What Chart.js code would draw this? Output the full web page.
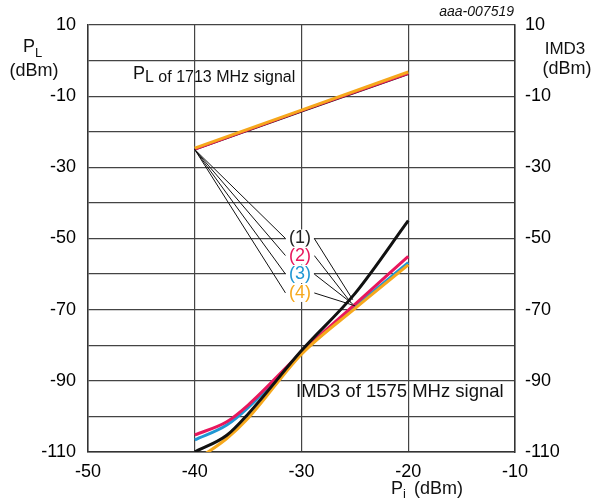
<!DOCTYPE html>
<html>
<head>
<meta charset="utf-8">
<script src="https://cdn.jsdelivr.net/npm/chart.js@4.4.1/dist/chart.umd.min.js"></script>
<style>
  html, body { margin: 0; padding: 0; background: #fff; }
  #wrap { width: 595px; height: 502px; position: relative; }
</style>
</head>
<body>
<div id="wrap"><canvas id="chart" width="595" height="502"></canvas></div>
<script>
// Pi (dBm) sample points for the IMD3 curves
const imdX = [-40, -37, -35, -30, -25, -20];
const imd1 = [-110, -105.3, -99.3, -81.5, -65.5, -45];
const imd2 = [-105.2, -101.5, -96.8, -82, -68.5, -55];
const imd3 = [-106.6, -102.4, -97.5, -82.2, -69.2, -56.8];
const imd4 = [-112.5, -106.2, -100.5, -82.5, -69.7, -57.4];

// PL of the 1713 MHz signal
const plX = [-40, -30, -20];
const pl1 = [-25, -14.3, -3.8];
const pl2 = [-25, -14.2, -3.7];
const pl3 = [-24.8, -14.0, -3.4];
const pl4 = [-24.6, -13.9, -3.2];

// callout labels (1)..(4) and their leader lines
const calloutNames = ["(1)", "(2)", "(3)", "(4)"];
const calloutX = -30.15;
const calloutY = [-50, -54.8, -60, -65.3];
const leaderStart = { x: -40, y: -25 };
const leaderLeftX = -31.5;
const leaderRightX = -28.8;
const leaderEnd = [[-25.2, -67.2], [-25.4, -67.9], [-25.2, -68.4], [-25.0, -68.9]];

const xTicks = [-50, -40, -30, -20, -10];
const yMin = -110, yMax = 10;

const colors = ["#111111", "#e8175d", "#1f97d4", "#f6a81c"];
const FONT = "'Liberation Sans', Arial, sans-serif";

function pts(xs, ys) {
    return xs.map((x, i) => ({ x: x, y: ys[i] }));
}

const imdSeries = [imd1, imd2, imd3, imd4];
const plSeries = [pl1, pl2, pl3, pl4];
const drawOrder = [1, 3, 4, 2]; // lower order = drawn on top

const datasets = [];
plSeries.forEach((s, i) => {
    datasets.push({
        data: pts(plX, s),
        borderColor: colors[i],
        borderWidth: i === 3 ? 3 : 2,
        pointRadius: 0,
        tension: 0,
        order: [3, 2, 4, 1][i]
    });
});
imdSeries.forEach((s, i) => {
    datasets.push({
        data: pts(imdX, s),
        borderColor: colors[i],
        borderWidth: 3,
        pointRadius: 0,
        cubicInterpolationMode: "monotone",
        order: drawOrder[i]
    });
});
calloutY.forEach((y, i) => {
    datasets.push({
        data: [
            leaderStart,
            { x: leaderLeftX, y: y },
            { x: null, y: null },
            { x: leaderRightX, y: y },
            { x: leaderEnd[i][0], y: leaderEnd[i][1] }
        ],
        borderColor: "#111",
        borderWidth: 1,
        pointRadius: 0,
        tension: 0,
        spanGaps: false,
        order: 0
    });
});

/** 축 제목, 신호 라벨, (1)~(4) 콜아웃 텍스트를 그린다. */
const textPlugin = {
    id: "textPlugin",
    afterDatasetsDraw(chart) {
        const { ctx, scales } = chart;
        const xs = scales.x, ys = scales.y;
        ctx.save();
        ctx.textBaseline = "middle";

        // callout labels with white boxes
        ctx.font = "18px " + FONT;
        ctx.textAlign = "center";
        calloutNames.forEach((t, i) => {
            const px = xs.getPixelForValue(calloutX);
            const py = ys.getPixelForValue(calloutY[i]);
            const w = ctx.measureText(t).width;
            ctx.fillStyle = "#fff";
            ctx.fillRect(px - w / 2 - 3, py - 9, w + 6, 18);
            ctx.fillStyle = i === 0 ? "#222" : colors[i];
            ctx.fillText(t, px, py);
        });

        // PL of 1713 MHz signal
        ctx.textAlign = "left";
        ctx.fillStyle = "#111";
        ctx.font = "18px " + FONT;
        ctx.fillText("P", 133, 74);
        ctx.font = "16px " + FONT;
        ctx.fillText("L of 1713 MHz signal", 145, 78);

        // IMD3 of 1575 MHz signal
        ctx.font = "18.5px " + FONT;
        ctx.fillText("IMD3 of 1575 MHz signal", 296, 392);

        // left axis title
        ctx.font = "18px " + FONT;
        ctx.fillText("P", 23, 47);
        ctx.font = "13px " + FONT;
        ctx.fillText("L", 35, 53);
        ctx.font = "18px " + FONT;
        ctx.textAlign = "center";
        ctx.fillText("(dBm)", 34, 71);

        // right axis title
        ctx.font = "17px " + FONT;
        ctx.fillText("IMD3", 565, 49);
        ctx.font = "18px " + FONT;
        ctx.fillText("(dBm)", 567, 69);

        // x axis title
        ctx.textAlign = "left";
        ctx.font = "18px " + FONT;
        ctx.fillText("P", 391, 489);
        ctx.font = "13px " + FONT;
        ctx.fillText("i", 403, 494);
        ctx.font = "18px " + FONT;
        ctx.fillText("(dBm)", 414, 489);

        // figure id
        ctx.font = "italic 14px " + FONT;
        ctx.textAlign = "right";
        ctx.fillText("aaa-007519", 514, 12);

        ctx.restore();
    }
};

const yTickCb = (v) => ((v - 10) % 20 === 0 ? String(v) : "");

new Chart(document.getElementById("chart").getContext("2d"), {
    type: "line",
    data: { datasets: datasets },
    options: {
        responsive: false,
        animation: false,
        events: [],
        layout: { padding: { top: 25, left: 0, right: 0, bottom: 0 } },
        plugins: { legend: { display: false }, tooltip: { enabled: false } },
        scales: {
            x: {
                type: "linear",
                min: -50,
                max: -10,
                afterBuildTicks: (s) => { s.ticks = xTicks.map((v) => ({ value: v })); },
                afterFit: (s) => { s.height = 50; },
                ticks: { color: "#000", font: { size: 18, family: FONT }, padding: 9, maxRotation: 0 },
                grid: { color: "#444", lineWidth: 1.2, drawTicks: false },
                border: { color: "#333", width: 1.5 }
            },
            y: {
                position: "left",
                min: yMin,
                max: yMax,
                afterFit: (s) => { s.width = 88; },
                ticks: { stepSize: 10, callback: yTickCb, color: "#000", font: { size: 18, family: FONT }, padding: 12 },
                grid: { color: "#444", lineWidth: 1.2, drawTicks: false },
                border: { color: "#333", width: 1.5 }
            },
            y2: {
                position: "right",
                min: yMin,
                max: yMax,
                afterFit: (s) => { s.width = 80; },
                ticks: { stepSize: 10, callback: yTickCb, color: "#000", font: { size: 18, family: FONT }, padding: 10 },
                grid: { display: false, drawTicks: false },
                border: { color: "#333", width: 1.5 }
            }
        }
    },
    plugins: [textPlugin]
});
</script>
</body>
</html>
